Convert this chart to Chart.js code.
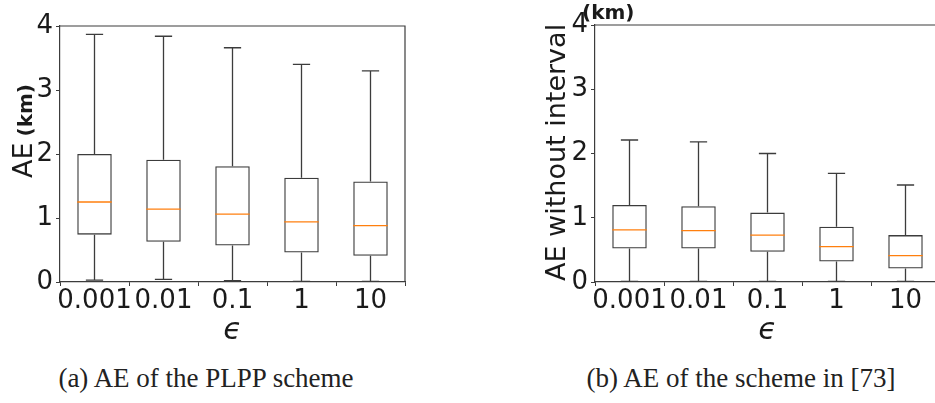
<!DOCTYPE html>
<html>
<head>
<meta charset="utf-8">
<script src="https://cdn.jsdelivr.net/npm/chart.js@4.4.1/dist/chart.umd.min.js"></script>
<style>
  html, body { margin: 0; padding: 0; background: #fff; overflow: hidden; width: 935px; height: 403px; }
  #wrap { position: relative; width: 935px; height: 403px; }
  canvas { position: absolute; top: 0; }
  .cap { position: absolute; top: 365px; font-family: "Liberation Serif", serif; font-size: 27px; line-height: 1; color: #222; white-space: nowrap; transform: translateX(-50%); }
</style>
</head>
<body>
<div id="wrap">
  <canvas id="chartA" width="467" height="345" style="left:0"></canvas>
  <canvas id="chartB" width="480" height="345" style="left:467px"></canvas>
  <div class="cap" style="left:206px">(a) AE of the PLPP scheme</div>
  <div class="cap" style="left:741px">(b) AE of the scheme in [73]</div>
</div>
<script>
// categories (epsilon)
const epsLabels = ["0.001", "0.01", "0.1", "1", "10"];

// (a) PLPP scheme, AE in km
const lowA  = [0.03, 0.04, 0.02, 0.01, 0.01];
const q1A   = [0.74, 0.63, 0.57, 0.46, 0.41];
const medA  = [1.25, 1.14, 1.06, 0.94, 0.88];
const q3A   = [2.00, 1.91, 1.81, 1.63, 1.57];
const highA = [3.87, 3.84, 3.66, 3.40, 3.30];

// (b) scheme in [73], AE without interval in km
const lowB  = [0.01, 0.01, 0.01, 0.01, 0.01];
const q1B   = [0.52, 0.52, 0.47, 0.32, 0.21];
const medB  = [0.81, 0.80, 0.73, 0.55, 0.41];
const q3B   = [1.20, 1.18, 1.08, 0.86, 0.73];
const highB = [2.21, 2.18, 2.00, 1.69, 1.51];

const yTickMin = 0, yTickMax = 4;

const LINE = "#3c3c3c";
const TXT = "#1a1a1a";
const SANS = "'DejaVu Sans', sans-serif";

// whiskers, caps, medians, frame, axis labels
const boxPlugin = {
  id: "boxes",
  afterDatasetsDraw(chart) {
    const o = chart.options.plugins.boxes;
    const ctx = chart.ctx, x = chart.scales.x, y = chart.scales.y;
    const meta = chart.getDatasetMeta(0);
    const area = chart.chartArea;
    ctx.save();
    ctx.lineWidth = 1.3;
    o.low.forEach((lo, i) => {
      const cx = x.getPixelForValue(i);
      const w = meta.data[i].width;
      const yLo = y.getPixelForValue(lo), yHi = y.getPixelForValue(o.high[i]);
      const yQ1 = y.getPixelForValue(o.q1[i]), yQ3 = y.getPixelForValue(o.q3[i]);
      ctx.strokeStyle = LINE;
      ctx.beginPath();
      ctx.moveTo(cx, yQ1); ctx.lineTo(cx, yLo);
      ctx.moveTo(cx, yQ3); ctx.lineTo(cx, yHi);
      ctx.moveTo(cx - w / 4, yLo); ctx.lineTo(cx + w / 4, yLo);
      ctx.moveTo(cx - w / 4, yHi); ctx.lineTo(cx + w / 4, yHi);
      ctx.stroke();
      const yM = y.getPixelForValue(o.med[i]);
      ctx.strokeStyle = "#ff7f0e";
      ctx.beginPath();
      ctx.moveTo(cx - w / 2, yM); ctx.lineTo(cx + w / 2, yM);
      ctx.stroke();
    });
    // top and right spines
    ctx.strokeStyle = LINE;
    ctx.lineWidth = 1.2;
    ctx.beginPath();
    ctx.moveTo(area.left, area.top); ctx.lineTo(area.right, area.top); ctx.lineTo(area.right, area.bottom);
    ctx.stroke();
    // x label
    ctx.fillStyle = TXT;
    ctx.font = "oblique 30px " + SANS;
    ctx.textAlign = "center";
    ctx.textBaseline = "middle";
    ctx.fillText("\u03f5", (area.left + area.right) / 2, 331);
    // y label
    ctx.textAlign = "left";
    ctx.textBaseline = "alphabetic";
    if (o.label === "a") {
      ctx.translate(32, 178);
      ctx.rotate(-Math.PI / 2);
      ctx.font = "27px " + SANS;
      ctx.fillText("AE", 0, 0);
      const wAE = ctx.measureText("AE").width;
      ctx.font = "bold 20px " + SANS;
      ctx.fillText("(km)", wAE + 6, 0);
    } else {
      ctx.font = "bold 20px " + SANS;
      ctx.fillText("(km)", 115, 19);
      ctx.translate(98, 281);
      ctx.rotate(-Math.PI / 2);
      ctx.font = "27px " + SANS;
      ctx.fillText("AE without interval", 0, 0);
    }
    ctx.restore();
  }
};

function makeChart(id, q1, q3, low, med, high, yWidth, padRight, padTop, label) {
  const ctx = document.getElementById(id).getContext("2d");
  return new Chart(ctx, {
    type: "bar",
    data: {
      labels: epsLabels,
      datasets: [{
        data: q1.map((v, i) => [v, q3[i]]),
        backgroundColor: "rgba(0,0,0,0)",
        borderColor: LINE,
        borderWidth: 1.3,
        borderSkipped: false,
        categoryPercentage: 1,
        barPercentage: 0.5
      }]
    },
    options: {
      responsive: false,
      animation: false,
      devicePixelRatio: 1,
      layout: { padding: { left: 0, right: padRight, top: padTop, bottom: 0 } },
      plugins: {
        legend: { display: false },
        tooltip: { enabled: false },
        boxes: { q1: q1, q3: q3, low: low, med: med, high: high, label: label }
      },
      scales: {
        x: {
          offset: true,
          afterFit: s => { s.height = 63; },
          grid: { display: true, drawOnChartArea: false, tickLength: 4, color: LINE },
          border: { display: true, color: LINE, width: 1.2 },
          ticks: { autoSkip: false, maxRotation: 0, minRotation: 0, padding: 0, color: TXT, font: { family: SANS, size: 26 } }
        },
        y: {
          min: yTickMin,
          max: yTickMax,
          afterFit: s => { s.width = yWidth; },
          grid: { display: true, drawOnChartArea: false, tickLength: 4, color: LINE },
          border: { display: true, color: LINE, width: 1.2 },
          ticks: { stepSize: 1, padding: 3, color: TXT, font: { family: SANS, size: 26 } }
        }
      }
    },
    plugins: [boxPlugin]
  });
}

makeChart("chartA", q1A, q3A, lowA, medA, highA, 60, 62, 26, "a");
makeChart("chartB", q1B, q3B, lowB, medB, highB, 128, 7, 25, "b");
</script>
</body>
</html>
